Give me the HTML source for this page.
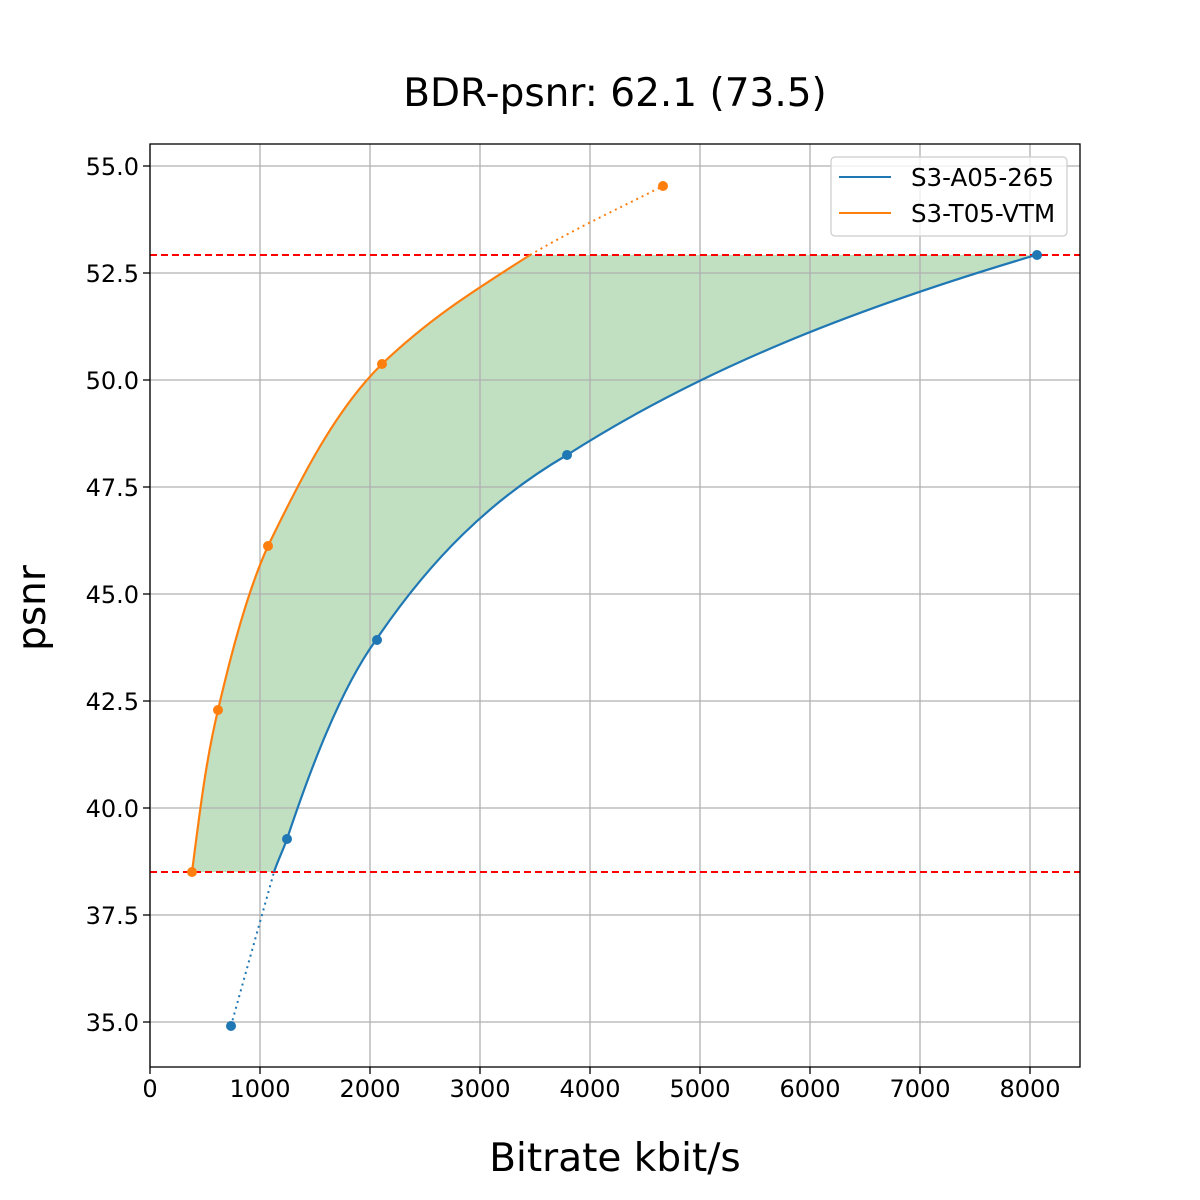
<!DOCTYPE html>
<html><head><style>body{margin:0;background:#fff}svg{display:block}</style></head><body>
<svg width="1200" height="1200" xmlns="http://www.w3.org/2000/svg" font-family="'DejaVu Sans','Liberation Sans',sans-serif">
<rect width="1200" height="1200" fill="#fff"/>
<path d="M192,872 C200,810 206,760 218,710 C232,650 248,590 268,546 C300,480 335,410 382,364 C430,318 475,290 530,255 L1036,255 C850,310 700,370 567,455 C490,500 430,560 376,640 C340,690 310,770 287,839 C284,848 278,860 274,872 Z" fill="#c1dfc1"/>
<g stroke="#b0b0b0" stroke-width="1.3">
<line x1="150" y1="144" x2="150" y2="1067"/><line x1="260" y1="144" x2="260" y2="1067"/><line x1="370" y1="144" x2="370" y2="1067"/><line x1="480" y1="144" x2="480" y2="1067"/><line x1="590" y1="144" x2="590" y2="1067"/><line x1="700" y1="144" x2="700" y2="1067"/><line x1="810" y1="144" x2="810" y2="1067"/><line x1="920" y1="144" x2="920" y2="1067"/><line x1="1030" y1="144" x2="1030" y2="1067"/>
<line x1="150" y1="166" x2="1080" y2="166"/><line x1="150" y1="273" x2="1080" y2="273"/><line x1="150" y1="380" x2="1080" y2="380"/><line x1="150" y1="487" x2="1080" y2="487"/><line x1="150" y1="594" x2="1080" y2="594"/><line x1="150" y1="701" x2="1080" y2="701"/><line x1="150" y1="808" x2="1080" y2="808"/><line x1="150" y1="915" x2="1080" y2="915"/><line x1="150" y1="1022" x2="1080" y2="1022"/>
</g>
<line x1="150" y1="255" x2="1080" y2="255" stroke="#f00" stroke-width="2" stroke-dasharray="7,4"/>
<line x1="150" y1="872" x2="1080" y2="872" stroke="#f00" stroke-width="2" stroke-dasharray="7,4"/>
<path d="M530,255 C580,226 620,208 663,186" fill="none" stroke="#ff7f0e" stroke-width="2" stroke-dasharray="2,4"/>
<path d="M231,1026 C245,975 262,915 274,872" fill="none" stroke="#1f77b4" stroke-width="2" stroke-dasharray="2,4"/>
<path d="M192,872 C200,810 206,760 218,710 C232,650 248,590 268,546 C300,480 335,410 382,364 C430,318 475,290 530,255" fill="none" stroke="#ff7f0e" stroke-width="2.2"/>
<path d="M274,872 C278,860 284,848 287,839 C310,770 340,690 376,640 C430,560 490,500 567,455 C700,370 850,310 1036,255" fill="none" stroke="#1f77b4" stroke-width="2.2"/>
<g fill="#1f77b4"><circle cx="231" cy="1026" r="5"/><circle cx="287" cy="839" r="5"/><circle cx="377" cy="640" r="5"/><circle cx="567" cy="455" r="5"/><circle cx="1037" cy="255" r="5"/></g>
<g fill="#ff7f0e"><circle cx="192" cy="872" r="5"/><circle cx="218" cy="710" r="5"/><circle cx="268" cy="546" r="5"/><circle cx="382" cy="364" r="5"/><circle cx="663" cy="186" r="5"/></g>
<rect x="150" y="144" width="930" height="923" fill="none" stroke="#000" stroke-width="1.3"/>
<g stroke="#000" stroke-width="1.3">
<line x1="150" y1="1067" x2="150" y2="1074"/><line x1="260" y1="1067" x2="260" y2="1074"/><line x1="370" y1="1067" x2="370" y2="1074"/><line x1="480" y1="1067" x2="480" y2="1074"/><line x1="590" y1="1067" x2="590" y2="1074"/><line x1="700" y1="1067" x2="700" y2="1074"/><line x1="810" y1="1067" x2="810" y2="1074"/><line x1="920" y1="1067" x2="920" y2="1074"/><line x1="1030" y1="1067" x2="1030" y2="1074"/>
<line x1="143" y1="166" x2="150" y2="166"/><line x1="143" y1="273" x2="150" y2="273"/><line x1="143" y1="380" x2="150" y2="380"/><line x1="143" y1="487" x2="150" y2="487"/><line x1="143" y1="594" x2="150" y2="594"/><line x1="143" y1="701" x2="150" y2="701"/><line x1="143" y1="808" x2="150" y2="808"/><line x1="143" y1="915" x2="150" y2="915"/><line x1="143" y1="1022" x2="150" y2="1022"/>
</g>
<g font-size="24" text-anchor="middle" fill="#000">
<text x="150" y="1097">0</text><text x="260" y="1097">1000</text><text x="370" y="1097">2000</text><text x="480" y="1097">3000</text><text x="590" y="1097">4000</text><text x="700" y="1097">5000</text><text x="810" y="1097">6000</text><text x="920" y="1097">7000</text><text x="1030" y="1097">8000</text>
</g>
<g font-size="24" text-anchor="end" fill="#000">
<text x="139" y="175">55.0</text><text x="139" y="282">52.5</text><text x="139" y="389">50.0</text><text x="139" y="496">47.5</text><text x="139" y="603">45.0</text><text x="139" y="710">42.5</text><text x="139" y="817">40.0</text><text x="139" y="924">37.5</text><text x="139" y="1031">35.0</text>
</g>
<text x="615" y="106" font-size="39" text-anchor="middle">BDR-psnr: 62.1 (73.5)</text>
<text x="615" y="1171" font-size="39" text-anchor="middle">Bitrate kbit/s</text>
<text transform="translate(45,608) rotate(-90)" font-size="39" text-anchor="middle">psnr</text>
<rect x="831" y="157" width="236" height="79" rx="4" fill="#fff" fill-opacity="0.8" stroke="#ccc" stroke-width="1.2"/>
<line x1="839" y1="177" x2="891" y2="177" stroke="#1f77b4" stroke-width="2"/>
<line x1="839" y1="213" x2="891" y2="213" stroke="#ff7f0e" stroke-width="2"/>
<text x="911" y="186" font-size="24.5">S3-A05-265</text>
<text x="911" y="222" font-size="24.5">S3-T05-VTM</text>
</svg>
</body></html>
